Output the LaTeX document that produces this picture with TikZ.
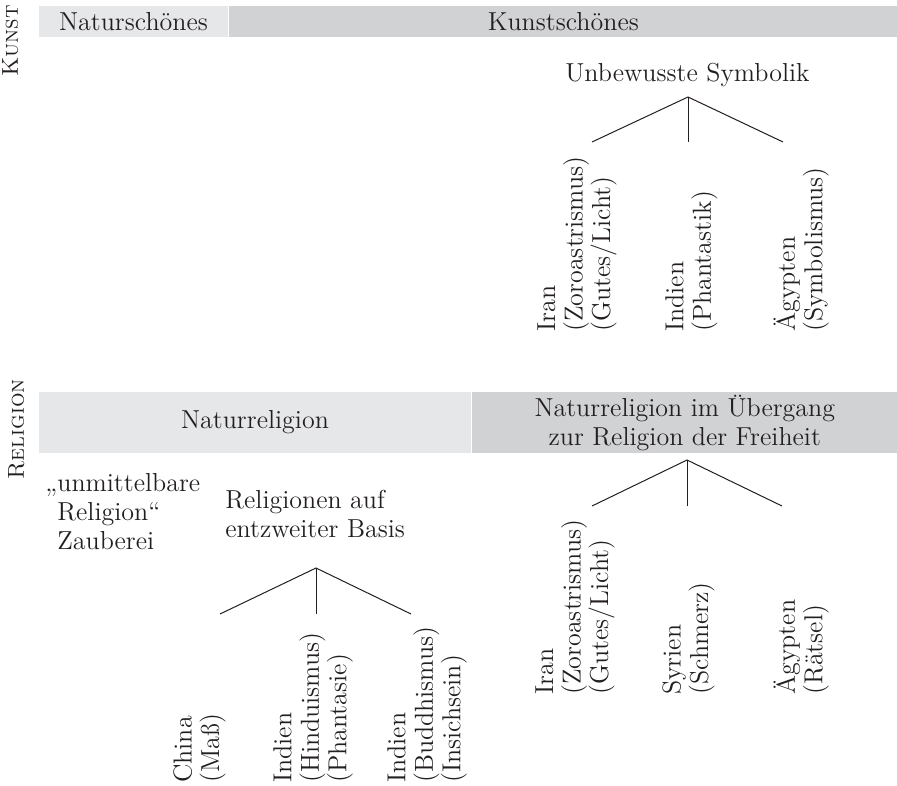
\documentclass[tikz,border=0pt]{standalone}
\usetikzlibrary{positioning}

\definecolor{barlight}{HTML}{E6E7E8}
\definecolor{bardark}{HTML}{D1D2D4}
\definecolor{ink}{HTML}{231F20}

\begin{document}
\begin{tikzpicture}[
    x=0.5pt, y=0.5pt,
    every node/.style={font=\fontsize{13}{14.5}\selectfont, text=ink},
    bar/.style={rectangle, inner sep=0pt, align=center},
    side/.style={rotate=90, anchor=base west, inner sep=0pt,
        font=\fontsize{11.5}{14}\selectfont},
    head/.style={anchor=base, inner sep=0pt},
    block/.style={anchor=north west, align=left, inner sep=0pt},
    leaf/.style={rotate=90, anchor=north west, align=left, inner sep=0pt,
        font=\fontsize{13}{13.75}\selectfont},
    branch/.style={draw=ink, line width=0.5pt}
]
    \useasboundingbox (0,0) rectangle (897,-785);

    % --- Kunst ---
    \node[side] (kunst) at (18,-77) {\textsc{Kunst}};
    \node[bar, fill=barlight, minimum width=94.5pt, minimum height=15.5pt] (natur) at (133.5,-21.5) {Naturschönes};
    \node[bar, fill=bardark, minimum width=334.5pt, minimum height=15.5pt, right=0pt of natur] (kunstsch) {Kunstschönes};

    \node[head] (symbolik) at (687.5,-82) {Unbewusste Symbolik};

    % Tree: Unbewusste Symbolik
    \coordinate (ktop) at (688,-97);
    \coordinate (kl) at (592,-142);
    \coordinate (km) at (688,-142);
    \coordinate (kr) at (783,-142);
    \draw[branch] (kl) -- (ktop) -- (kr);
    \draw[branch] (ktop) -- (km);

    \node[leaf] (kiran) at (537,-332) {Iran\\(Zoroastrismus)\\(Gutes/Licht)};
    \node[leaf] (kindien) at (665,-332) {Indien\\(Phantastik)};
    \node[leaf] (kaegypten) at (773,-332) {Ägypten\\(Symbolismus)};

    % --- Religion ---
    \node[side] (religion) at (24,-480) {\textsc{Religion}};
    \node[bar, fill=barlight, minimum width=216pt, minimum height=30.5pt] (naturrel) at (255,-422.5) {Naturreligion};
    \node[bar, fill=bardark, minimum width=213pt, minimum height=30.5pt, right=0pt of naturrel] (uebergang) {Naturreligion im Übergang\\zur Religion der Freiheit};

    \node[block] (zauber) at (57,-473) {\llap{„}unmittelbare\\Religion“\\Zauberei};
    \node[block] (entzweit) at (225,-490) {Religionen auf\\entzweiter Basis};

    % Tree: Religionen auf entzweiter Basis
    \coordinate (etop) at (316,-568);
    \coordinate (el) at (220,-614);
    \coordinate (em) at (316,-614);
    \coordinate (er) at (411,-614);
    \draw[branch] (el) -- (etop) -- (er);
    \draw[branch] (etop) -- (em);

    \node[leaf] (china) at (173,-783) {China\\(Maß)};
    \node[leaf] (hindu) at (273,-783) {Indien\\(Hinduismus)\\(Phantasie)};
    \node[leaf] (buddha) at (387,-783) {Indien\\(Buddhismus)\\(Insichsein)};

    % Tree: Naturreligion im Uebergang
    \coordinate (utop) at (687,-460);
    \coordinate (ul) at (592,-506);
    \coordinate (um) at (687,-506);
    \coordinate (ur) at (782,-506);
    \draw[branch] (ul) -- (utop) -- (ur);
    \draw[branch] (utop) -- (um);

    \node[leaf] (riran) at (535,-695) {Iran\\(Zoroastrismus)\\(Gutes/Licht)};
    \node[leaf] (syrien) at (662,-695) {Syrien\\(Schmerz)};
    \node[leaf] (raegypten) at (773,-695) {Ägypten\\(Rätsel)};

\end{tikzpicture}
\end{document}
